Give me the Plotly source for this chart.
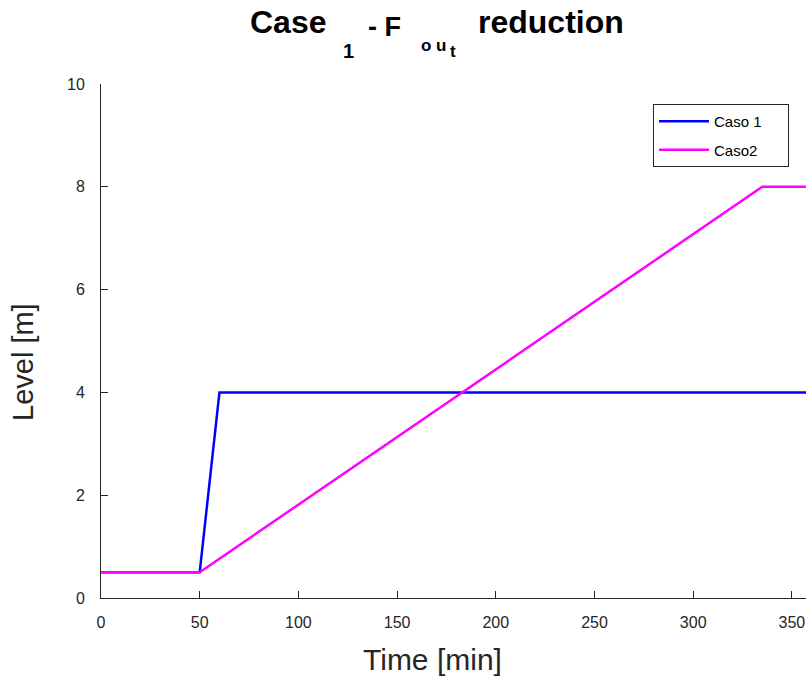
import plotly.graph_objects as go

# Data
time_caso1 = [0, 50, 60, 360]
level_caso1 = [0.5, 0.5, 4, 4]
time_caso2 = [0, 50, 335, 360]
level_caso2 = [0.5, 0.5, 8, 8]
x_ticks = [0, 50, 100, 150, 200, 250, 300, 350]
y_ticks = [0, 2, 4, 6, 8, 10]
legend_names = ["Caso 1", "Caso2"]

W, H = 806, 677
L, R, T, B = 101, 0, 84, 677 - 598
pw = W - L - R
ph = H - T - B

def px(x):
    return (x - L) / pw

def py(y):
    return (H - B - y) / ph

font = "Liberation Sans, Arial, Helvetica, sans-serif"
axcol = "#262626"
pad_r = "\u00a0" * 5

fig = go.Figure()
fig.add_trace(go.Scatter(x=time_caso1, y=level_caso1, mode="lines", name=legend_names[0] + pad_r,
                         line=dict(color="#0000FF", width=2.5), legendgroup="a"))
fig.add_trace(go.Scatter(x=time_caso2, y=level_caso2, mode="lines", name=legend_names[1] + pad_r,
                         line=dict(color="#FF00FF", width=2.5), legendgroup="b"))

fig.update_layout(
    width=W, height=H,
    margin=dict(l=L, r=R, t=T, b=B, pad=0),
    plot_bgcolor="white", paper_bgcolor="white",
    font=dict(family=font, color=axcol),
    showlegend=True,
    legend=dict(x=px(653), y=py(104), xanchor="left", yanchor="top",
                bordercolor=axcol, borderwidth=1, bgcolor="white",
                font=dict(size=15, color="black"), itemwidth=50,
                traceorder="grouped", tracegroupgap=6),
    xaxis=dict(range=[0, (806 - 101) / 1.974], tickvals=x_ticks, ticks="inside", ticklen=7,
               tickcolor=axcol, showline=True, linecolor=axcol, linewidth=1,
               showgrid=False, zeroline=False, tickfont=dict(size=16, color=axcol),
               ticklabelstandoff=10),
    yaxis=dict(range=[0, 10], tickvals=y_ticks, ticks="inside", ticklen=7,
               tickcolor=axcol, showline=True, linecolor=axcol, linewidth=1,
               showgrid=False, zeroline=False, tickfont=dict(size=16, color=axcol),
               ticklabelstandoff=12),
)

# (text, left x, baseline y, font size) in page pixels
title_parts = [
    ("Case", 248, 33, 32),
    ("1", 341, 58, 20),
    ("- F", 366, 37, 27),
    ("o", 419, 52, 17),
    ("u", 434, 52, 17),
    ("t", 448, 58, 17),
    ("reduction", 476, 33, 32),
]
for txt, x0, base, sz in title_parts:
    fig.add_annotation(text="<b>" + txt + "</b>", xref="paper", yref="paper",
                       x=px(x0), y=py(base - 0.355 * sz), xanchor="left", yanchor="middle",
                       showarrow=False, font=dict(size=sz, color="black", family=font))

fig.add_annotation(text="Time [min]", xref="paper", yref="paper", x=px(432), y=py(659),
                   xanchor="center", yanchor="middle", showarrow=False,
                   font=dict(size=30, color=axcol, family=font))
fig.add_annotation(text="Level [m]", xref="paper", yref="paper", x=px(23), y=py(362),
                   xanchor="center", yanchor="middle", showarrow=False, textangle=-90,
                   font=dict(size=29, color=axcol, family=font))

fig.write_html("out.html", config={"displayModeBar": False},
               post_script="document.body.style.margin='0px';")
